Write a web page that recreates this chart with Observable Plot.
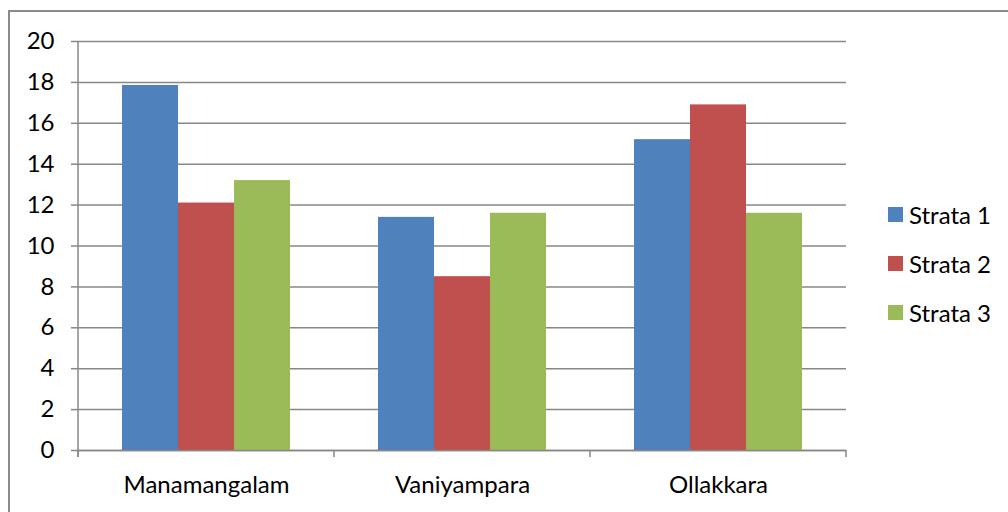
<!DOCTYPE html>
<html>
<head>
<meta charset="utf-8">
<script src="https://cdn.jsdelivr.net/npm/d3@7"></script>
<script src="https://cdn.jsdelivr.net/npm/@observablehq/plot@0.6"></script>
<style>
  html, body { margin: 0; padding: 0; background: #fff; }
  body { width: 1008px; height: 512px; overflow: hidden; position: relative; font-family: Lato, "Noto Sans", sans-serif; }
  #frame { position: absolute; left: 8px; top: 10px; width: 1100px; height: 600px; border: 2px solid #8a8a8a; box-sizing: border-box; }
  #chart { position: absolute; left: 0; top: 0; }
  #legend { position: absolute; left: 888px; top: 190px; font-size: 24px; color: #000; }
  .item { display: flex; align-items: center; height: 49px; }
  .sw { width: 15px; height: 15px; margin-right: 6px; }
</style>
</head>
<body>
<div id="frame"></div>
<div id="chart"></div>
<div id="legend"></div>
<script>
const categories = ["Manamangalam", "Vaniyampara", "Ollakkara"];
const series = ["Strata 1", "Strata 2", "Strata 3"];
const strata1 = [17.85, 11.4, 15.2];
const strata2 = [12.1, 8.5, 16.9];
const strata3 = [13.2, 11.6, 11.6];
const yTicks = [0, 2, 4, 6, 8, 10, 12, 14, 16, 18, 20];
const colors = ["#4F81BD", "#C0504D", "#9BBB59"];

const seriesValues = [strata1, strata2, strata3];
const data = categories.flatMap((c, i) =>
  series.map((s, j) => ({category: c, series: s, value: seriesValues[j][i]}))
);

const chart = Plot.plot({
  width: 1008,
  height: 512,
  marginLeft: 77,
  marginRight: 162,
  marginTop: 41,
  marginBottom: 62,
  style: {fontFamily: "Lato, 'Noto Sans', sans-serif", fontSize: "24px", color: "#000", background: "transparent", overflow: "visible"},
  fx: {domain: categories, padding: 0, label: null, axis: null},
  x: {domain: series, paddingInner: 0, paddingOuter: 0.75, axis: null},
  y: {domain: [0, 20], label: null},
  color: {domain: series, range: colors},
  marks: [
    Plot.gridY(yTicks, {stroke: "#888", strokeOpacity: 1, strokeWidth: 1.5}),
    Plot.barY(data, {fx: "category", x: "series", y: "value", fill: "series"}),
    Plot.ruleY([0], {stroke: "#888", strokeWidth: 1.5}),
    Plot.axisY(yTicks, {tickSize: 7, tickPadding: 17, stroke: "#888", strokeWidth: 1.5, label: null}),
    Plot.axisFx({anchor: "bottom", tickSize: 0, tickPadding: 25, label: null})
  ]
});
document.getElementById("chart").appendChild(chart);

// y-axis line and category boundary ticks from the library's scales
const fx = chart.scale("fx");
const y = chart.scale("y");
const svg = d3.select(chart);
const y0 = y.apply(0), yTop = y.apply(20);
const bounds = categories.map(c => fx.apply(c)).concat([fx.apply(categories[categories.length - 1]) + fx.bandwidth]);
const g = svg.append("g").attr("stroke", "#888").attr("stroke-width", 1.5);
g.append("line").attr("x1", bounds[0]).attr("x2", bounds[0]).attr("y1", y0 + 7).attr("y2", yTop);
bounds.forEach(b => g.append("line").attr("x1", b).attr("x2", b).attr("y1", y0).attr("y2", y0 + 7));

// legend
const legend = d3.select("#legend");
series.forEach((s, i) => {
  const it = legend.append("div").attr("class", "item");
  it.append("div").attr("class", "sw").style("background", colors[i]);
  it.append("span").text(s);
});
</script>
</body>
</html>
